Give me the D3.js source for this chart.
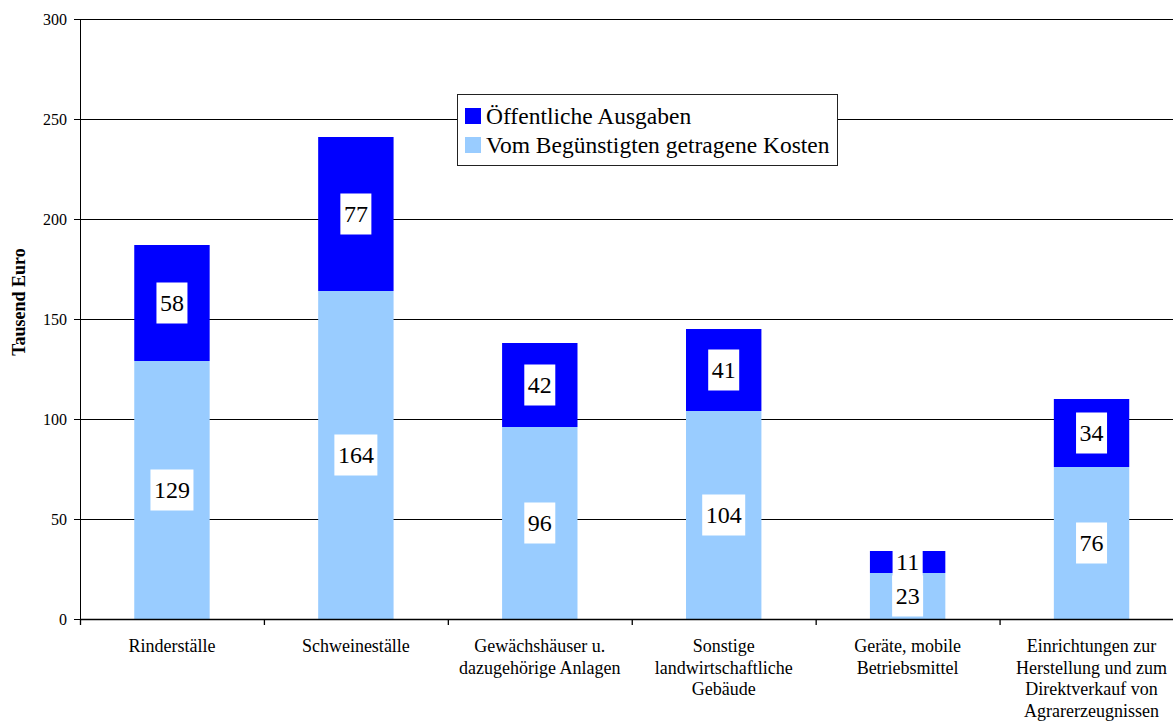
<!DOCTYPE html>
<html>
<head>
<meta charset="utf-8">
<script src="https://cdn.jsdelivr.net/npm/d3@7/dist/d3.min.js"></script>
<style>
  html, body { margin: 0; padding: 0; background: #fff; overflow: hidden; }
  svg text { font-family: "Liberation Serif", "Times New Roman", serif; }
</style>
</head>
<body>
<div id="chart"></div>
<script>
// categories (line breaks as in the picture)
var categories = [
    "Rinderställe",
    "Schweineställe",
    "Gewächshäuser u.\ndazugehörige Anlagen",
    "Sonstige\nlandwirtschaftliche\nGebäude",
    "Geräte, mobile\nBetriebsmittel",
    "Einrichtungen zur\nHerstellung und zum\nDirektverkauf von\nAgrarerzeugnissen"
];
// Vom Begünstigten getragene Kosten (bottom)
var eigenKosten = [129, 164, 96, 104, 23, 76];
// Öffentliche Ausgaben (top)
var oeffentlich = [58, 77, 42, 41, 11, 34];
var seriesNames = ["Öffentliche Ausgaben", "Vom Begünstigten getragene Kosten"];
var yTicks = [0, 50, 100, 150, 200, 250, 300];
var yTitle = "Tausend Euro";

var colDark = "#0000ff", colLight = "#99ccff";
var serif = "'Liberation Serif', 'Times New Roman', serif";

var W = 1173, H = 725;
var plotLeft = 80, plotTop = 19, plotH = 600, plotRight = 1183.5;

var svg = d3.select("#chart").append("svg")
    .attr("width", W).attr("height", H)
    .style("display", "block");

var y = d3.scaleLinear().domain([0, 300]).range([plotTop + plotH, plotTop]);
var x = d3.scaleBand().domain(categories).range([plotLeft, plotRight])
    .paddingInner(0.59).paddingOuter(0.295);
// boundaries for the x ticks
var xb = d3.scaleLinear().domain([0, categories.length]).range([plotLeft, plotRight]);

// gridlines
svg.append("g").selectAll("line").data(yTicks.filter(function(d){ return d > 0; }))
    .enter().append("line")
    .attr("x1", plotLeft).attr("x2", W)
    .attr("y1", function(d){ return Math.round(y(d)) + 0.5; })
    .attr("y2", function(d){ return Math.round(y(d)) + 0.5; })
    .attr("stroke", "#000").attr("stroke-width", 1);

var rows = categories.map(function(c, i){
    return {c: c, low: eigenKosten[i], high: oeffentlich[i]};
});

// bars
var bars = svg.append("g");
bars.selectAll("rect.low").data(rows).enter().append("rect")
    .attr("class", "low")
    .attr("x", function(d){ return x(d.c); })
    .attr("width", x.bandwidth())
    .attr("y", function(d){ return y(d.low); })
    .attr("height", function(d){ return y(0) - y(d.low); })
    .attr("fill", colLight);
bars.selectAll("rect.high").data(rows).enter().append("rect")
    .attr("class", "high")
    .attr("x", function(d){ return x(d.c); })
    .attr("width", x.bandwidth())
    .attr("y", function(d){ return y(d.low + d.high); })
    .attr("height", function(d){ return y(d.low) - y(d.low + d.high); })
    .attr("fill", colDark);

// axes
var yAxis = d3.axisLeft(y).tickValues(yTicks).tickSize(6).tickSizeOuter(0).tickPadding(7);
var yg = svg.append("g").attr("transform", "translate(" + plotLeft + ",0)").call(yAxis);
yg.attr("font-family", null).attr("font-size", null);
yg.selectAll("text").style("font-size", "16px").style("font-family", serif).attr("fill", "#000");
yg.selectAll("line, path").attr("stroke", "#000");

var xAxis = d3.axisBottom(xb).tickValues(d3.range(categories.length + 1))
    .tickSize(6).tickSizeOuter(0).tickFormat("");
var xg = svg.append("g").attr("transform", "translate(0," + (plotTop + plotH) + ")").call(xAxis);
xg.selectAll("line, path").attr("stroke", "#000").attr("stroke-width", 1.3);

// category labels
var catLabels = svg.append("g").selectAll("text").data(categories).enter().append("text")
    .attr("text-anchor", "middle")
    .style("font-family", serif)
    .style("font-size", "18px")
    .attr("fill", "#000");
catLabels.each(function(c){
    var t = d3.select(this);
    var cx = x(c) + x.bandwidth() / 2;
    c.split("\n").forEach(function(line, k){
        t.append("tspan").attr("x", cx).attr("y", 652 + k * 21.7).text(line);
    });
});

// data labels (white boxes)
function addLabel(g, cx, cy, v){
    var t = g.append("text").attr("x", cx).attr("y", cy).attr("dy", "0.35em")
        .attr("text-anchor", "middle")
        .style("font-family", serif).style("font-size", "24px")
        .attr("fill", "#000")
        .text(v);
    var w = t.node().getComputedTextLength() + 7;
    g.insert("rect", "text")
        .attr("x", cx - w / 2).attr("y", cy - 20.5)
        .attr("width", w).attr("height", 41).attr("fill", "#fff");
}
rows.forEach(function(d){
    var cx = x(d.c) + x.bandwidth() / 2;
    addLabel(svg.append("g"), cx, (y(0) + y(d.low)) / 2, d.low);
    addLabel(svg.append("g"), cx, (y(d.low) + y(d.low + d.high)) / 2, d.high);
});

// y title
svg.append("text")
    .attr("transform", "translate(19,302) rotate(-90)")
    .attr("text-anchor", "middle").attr("dy", "0.35em")
    .style("font-family", serif)
    .style("font-size", "18px").style("font-weight", "bold")
    .attr("fill", "#000")
    .text(yTitle);

// legend
var legend = svg.append("g");
legend.append("rect")
    .attr("x", 457.5).attr("y", 94.5).attr("width", 380).attr("height", 71)
    .attr("fill", "#fff").attr("stroke", "#222").attr("stroke-width", 1);
var legendColors = [colDark, colLight];
seriesNames.forEach(function(name, i){
    legend.append("rect")
        .attr("x", 465).attr("y", 108 + i * 29).attr("width", 16).attr("height", 16)
        .attr("fill", legendColors[i]);
    legend.append("text")
        .attr("x", 486).attr("y", 124.3 + i * 29)
        .style("font-family", serif)
        .style("font-size", "23.5px").attr("fill", "#000")
        .text(name);
});
</script>
</body>
</html>
